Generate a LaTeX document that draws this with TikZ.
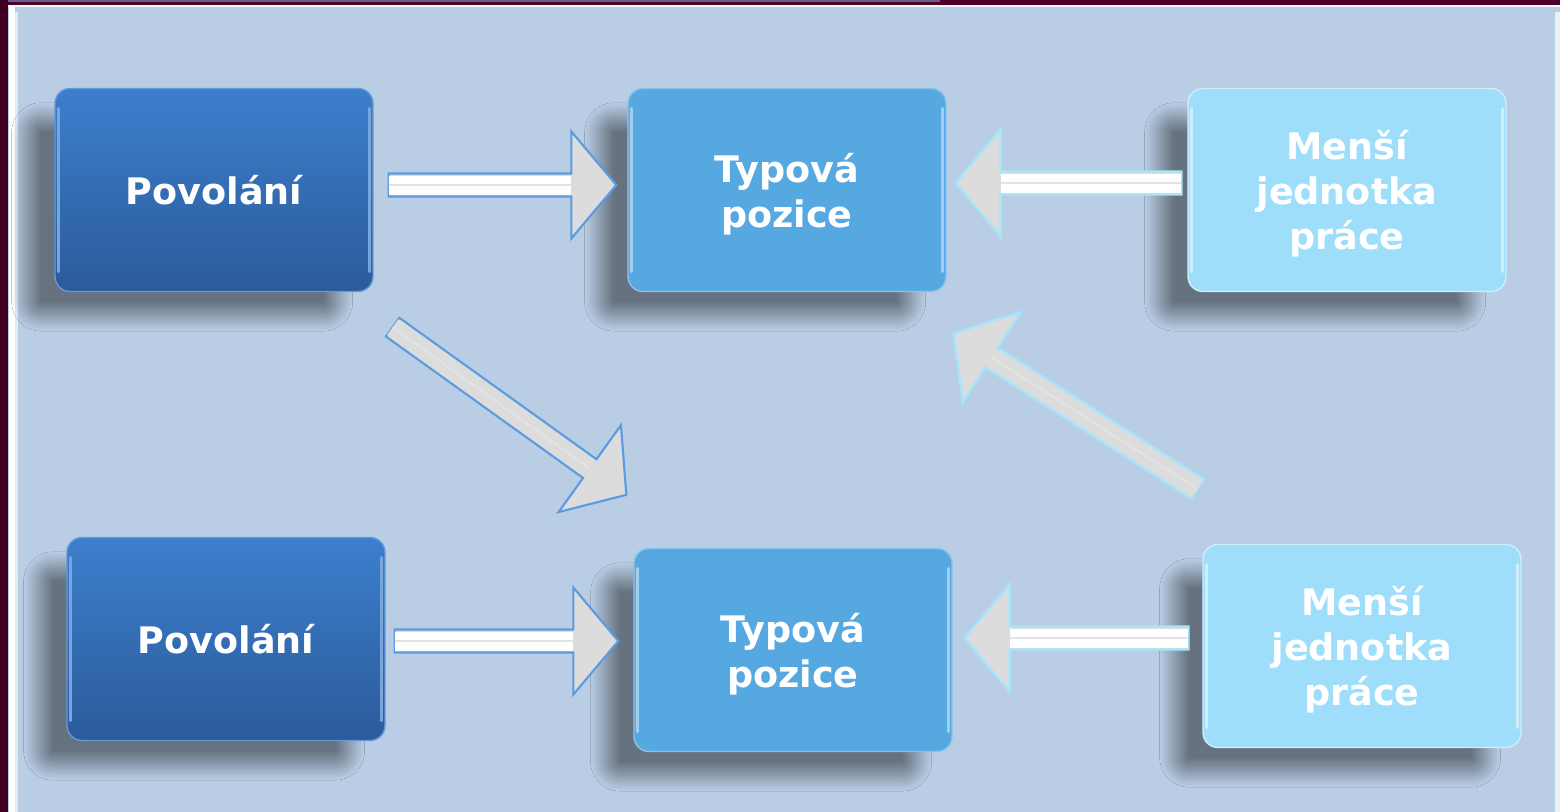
\documentclass[tikz,border=0pt]{standalone}
\usepackage{fontspec}
\setmainfont{DejaVu Sans}
\usetikzlibrary{positioning,calc,shadows.blur}

\definecolor{bgblue}{HTML}{B9CDE5}
\definecolor{maroon}{HTML}{4E0029}
\definecolor{topline}{HTML}{6A5C8C}
\definecolor{darkA}{HTML}{3C7FCD}
\definecolor{darkB}{HTML}{2B5B9A}
\definecolor{midblue}{HTML}{56A8E1}
\definecolor{lightblue}{HTML}{9FDEFB}
\definecolor{arrblue}{HTML}{5B9BE0}
\definecolor{arrcyan}{HTML}{A8E4FA}
\definecolor{arrgray}{HTML}{DCDCDC}

\tikzset{
  box/.style={rectangle, rounded corners=8.5pt, inner sep=0pt,
    minimum width=6.36cm, minimum height=4.06cm, align=center, text=white,
    font=\bfseries\fontsize{20.8}{25.5}\selectfont,
    blur shadow={shadow xshift=-0.65cm, shadow yshift=-0.55cm, shadow scale=0.98,
      shadow blur radius=0.3cm, shadow blur steps=20, shadow opacity=44}},
  gloss/.style={path picture={
    \draw[#1, line width=2pt, line cap=round]
      ([xshift=0.07cm, yshift=-0.4cm]path picture bounding box.north west)
      -- ([xshift=0.07cm, yshift=0.4cm]path picture bounding box.south west);
    \draw[#1, line width=2pt, line cap=round]
      ([xshift=-0.07cm, yshift=-0.4cm]path picture bounding box.north east)
      -- ([xshift=-0.07cm, yshift=0.4cm]path picture bounding box.south east);}},
  povbox/.style={box, top color=darkA, bottom color=darkB, draw=darkA!80!white,
    line width=0.8pt, gloss=darkA!70!white},
  typbox/.style={box, fill=midblue, draw=midblue!70!white, line width=0.8pt,
    text depth=0pt, gloss=midblue!55!white},
  menbox/.style={box, fill=lightblue, draw=lightblue!50!white, line width=0.8pt,
    text depth=0pt, gloss=lightblue!50!white},
}

% block arrow: style, tail, tip, shaft colour
\newcommand\blockarr[4]{
  \coordinate (hb) at ($(#3)!0.9cm!(#2)$);
  \filldraw[#1, fill=arrgray, line join=miter]
    ($(#2)!0.23cm!90:(#3)$) -- ($(hb)!0.23cm!90:(#3)$) -- ($(hb)!1.07cm!90:(#3)$) -- (#3)
    -- ($(hb)!1.07cm!-90:(#3)$) -- ($(hb)!0.23cm!-90:(#3)$) -- ($(#2)!0.23cm!-90:(#3)$) -- cycle;
  \fill[#4] ($(#2)!0.19cm!90:(#3)$) -- ($(hb)!0.19cm!90:(#3)$) -- ($(hb)!0.19cm!-90:(#3)$) -- ($(#2)!0.19cm!-90:(#3)$) -- cycle;
  \draw[arrgray!80!white, line width=1.2pt] (#2) -- (hb);
}

\begin{document}
\begin{tikzpicture}[x=0.02cm, y=-0.02cm]
  \useasboundingbox (0,0) rectangle (1560,812);
  % frame
  \fill[bgblue] (0,0) rectangle (1560,812);
  \fill[maroon] (0,0) rectangle (1560,5);
  \fill[topline] (0,0) rectangle (940,2);
  \fill[maroon!80!black] (0,0) rectangle (8,812);
  \fill[white!85!bgblue] (8,5) rectangle (1560,7);
  \fill[white] (9,7) rectangle (15,812);
  \fill[white!60!bgblue] (15,12) rectangle (18,812);
  \fill[white!70!bgblue] (1555,12) rectangle (1560,812);

  % boxes
  \node[povbox] (pov1) at (214,190) {Povolání};
  \node[typbox] (typ1) at (787,190) {Typová\\pozice};
  \node[menbox] (men1) at (1347,190) {Menší\\jednotka\\práce};
  \node[povbox] (pov2) at (226,639) {Povolání};
  \node[typbox] (typ2) at (793,650) {Typová\\pozice};
  \node[menbox] (men2) at (1362,646) {Menší\\jednotka\\práce};

  % arrow ends
  \coordinate (a1t) at ($(pov1.east)+(15,-5)$);
  \coordinate (a1h) at ($(typ1.west)+(-11,-5)$);
  \coordinate (a2t) at ($(men1.west)+(-6,-7)$);
  \coordinate (a2h) at ($(typ1.east)+(9,-7)$);
  \coordinate (a3t) at ($(pov1.south east)+(19,35)$);
  \coordinate (a3h) at ($(typ2.north west)+(-7,-53)$);
  \coordinate (a4t) at ($(men2.north west)+(-5,-55)$);
  \coordinate (a4h) at ($(typ1.south east)+(7,41)$);
  \coordinate (a5t) at ($(pov2.east)+(9,2)$);
  \coordinate (a5h) at ($(typ2.west)+(-15,-9)$);
  \coordinate (a6t) at ($(men2.west)+(-14,-8)$);
  \coordinate (a6h) at ($(typ2.east)+(12,-12)$);

  \blockarr{draw=arrblue, line width=1.2pt}{a1t}{a1h}{white}
  \blockarr{draw=arrcyan, line width=1.4pt}{a2t}{a2h}{white}
  \blockarr{draw=arrblue, line width=1.2pt}{a3t}{a3h}{arrgray}
  \blockarr{draw=arrcyan, line width=1.4pt}{a4t}{a4h}{arrgray}
  \blockarr{draw=arrblue, line width=1.2pt}{a5t}{a5h}{white}
  \blockarr{draw=arrcyan, line width=1.4pt}{a6t}{a6h}{white}
\end{tikzpicture}
\end{document}
